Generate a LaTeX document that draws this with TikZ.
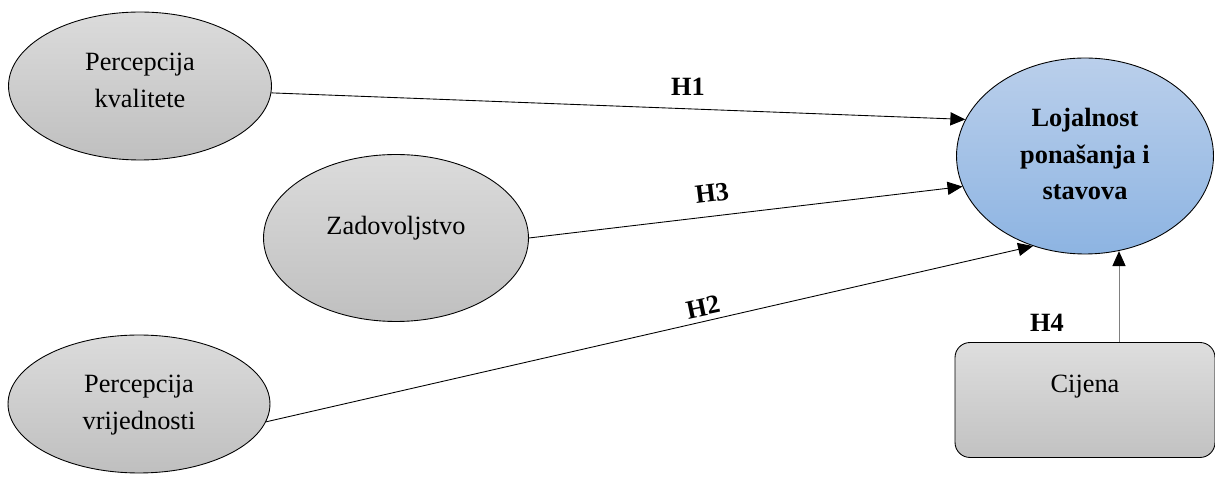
\documentclass[tikz,border=0pt]{standalone}
\usepackage{fontspec}
\setmainfont{Liberation Serif}
\usepackage{tikz}
\usetikzlibrary{calc}
\usetikzlibrary{shapes,arrows.meta}

\begin{document}
\begin{tikzpicture}[x=0.02cm,y=-0.02cm]
	\tikzstyle{every node}=[font=\fontsize{15}{21}\selectfont]
	\tikzstyle{grayell}=[ellipse, draw=black, line width=0.5pt, inner sep=0pt, top color=gray!28, bottom color=gray!50]
	\tikzstyle{txt}=[align=center, inner sep=0pt]
	\tikzstyle{hyp}=[font=\fontsize{15}{18}\selectfont\bfseries, inner sep=0pt]
	\tikzstyle{arr}=[line width=0.5pt, -{Triangle[length=8.5pt,width=7.5pt,color=black]}]
	
	\useasboundingbox (0,0) rectangle (1215,482);
	
	\node [grayell, minimum width=5.26cm, minimum height=2.96cm] (qual) at (140,86) {};
	\node [grayell, minimum width=5.30cm, minimum height=3.34cm] (sat) at (396,238) {};
	\node [grayell, minimum width=5.24cm, minimum height=2.76cm] (val) at (139,404) {};
	\node [ellipse, draw=black, line width=0.5pt, inner sep=0pt, top color={rgb,255:red,186;green,207;blue,235}, bottom color={rgb,255:red,141;green,180;blue,226}, minimum width=5.14cm, minimum height=3.92cm] (loy) at (1085,156) {};
	\node [draw=black, line width=0.5pt, rounded corners=0.3cm, inner sep=0pt, top color=gray!26, bottom color=gray!48, minimum width=5.2cm, minimum height=2.3cm] (price) at (1085,400) {};
	
	\node [txt] (qualtxt) at (140,80) {Percepcija\\kvalitete};
	\node [txt] (sattxt) at (396,228) {Zadovoljstvo};
	\node [txt] (valtxt) at (139,405) {Percepcija\\vrijednosti};
	\node [txt, font=\fontsize{15}{20.5}\selectfont\bfseries] (loytxt) at (1085,154) {Lojalnost\\ponašanja i\\stavova};
	\node [txt] (pricetxt) at (1085,387) {Cijena};
	
	\draw [arr] (qual.-3) -- (loy.163);
	\draw [arr] (sat.east) -- (loy.194);
	\draw [arr] (val.-8) -- (loy.240);
	\coordinate (pricetop) at ($(price.north)+(34,0)$);
	\draw [arr, draw=gray] (pricetop) -- (loy.289 -| pricetop);
	
	\node [hyp] (h1) at (688,87) {H1};
	\node [hyp, rotate=7] (h3) at (712,193) {H3};
	\node [hyp, rotate=12] (h2) at (703,307) {H2};
	\node [hyp] (h4) at (1047,323) {H4};
\end{tikzpicture}
\end{document}
